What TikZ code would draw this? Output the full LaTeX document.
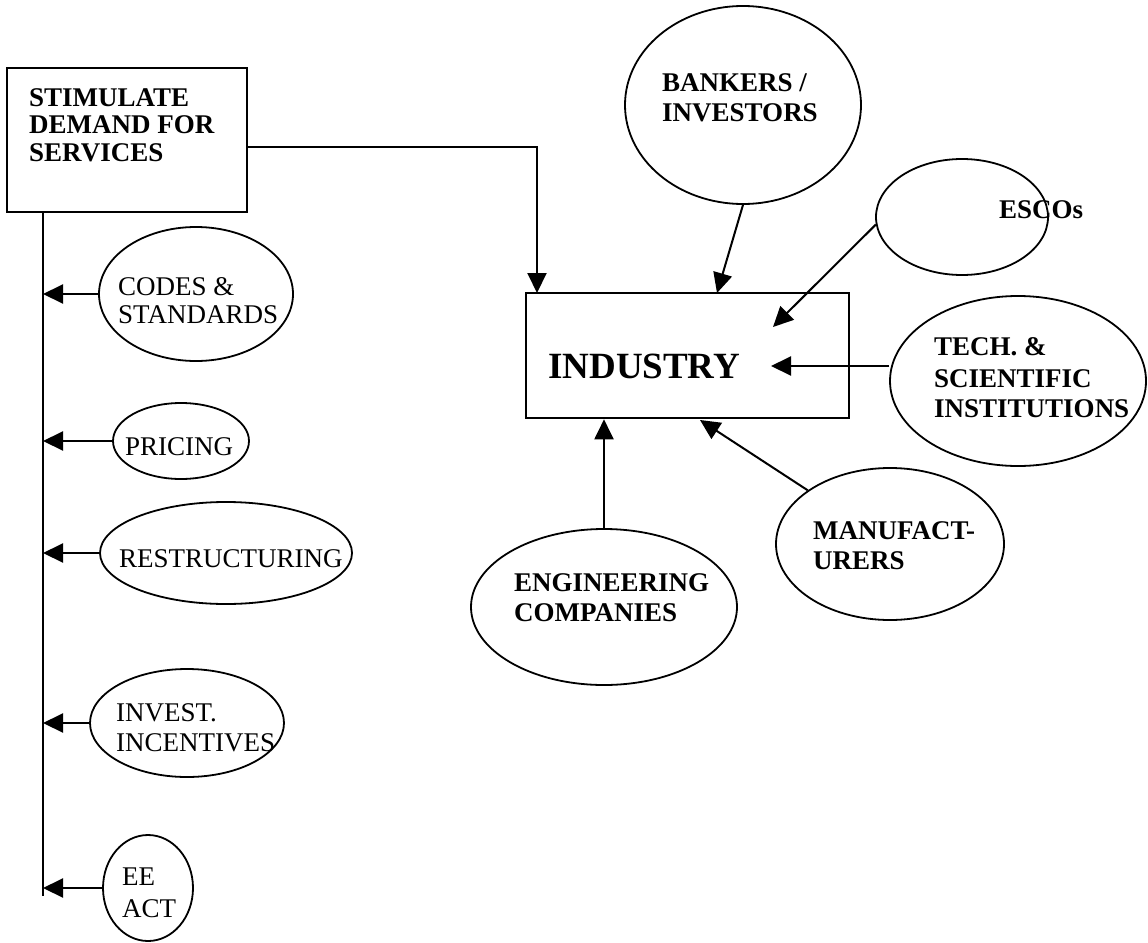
\documentclass[tikz,border=0pt]{standalone}
\usepackage{fontspec}
\setmainfont{Liberation Serif}
\usetikzlibrary{shapes.geometric,arrows.meta}
\begin{document}
\begin{tikzpicture}[x=1pt,y=-1pt,
  bubble/.style={draw,ellipse,inner sep=0pt,line width=1.8pt},
  box/.style={draw,rectangle,inner sep=0pt,line width=2.6pt},
  lbl/.style={anchor=north west,inner sep=0pt,align=left,font=\fontsize{27}{30}\selectfont},
  blbl/.style={anchor=north west,inner sep=0pt,align=left,font=\fontsize{27}{30}\selectfont\bfseries},
  arr/.style={-{Triangle[length=20pt,width=19pt]},line width=2pt},
  link/.style={line width=2pt}]
\useasboundingbox (0,0) rectangle (1148,942);

% main boxes
\node[box,minimum width=240pt,minimum height=144pt] (stim) at (127,140) {};
\node[box,minimum width=323pt,minimum height=125pt] (ind) at (687.5,355.5) {};

% policy instruments on the left
\node[bubble,minimum width=194pt,minimum height=134pt] (codes) at (196,294) {};
\node[bubble,minimum width=136pt,minimum height=76pt] (pricing) at (181,441) {};
\node[bubble,minimum width=252pt,minimum height=102pt] (restr) at (226,553) {};
\node[bubble,minimum width=194pt,minimum height=108pt] (invest) at (187,723) {};
\node[bubble,minimum width=90pt,minimum height=106pt] (ee) at (148,888) {};

% actors around industry
\node[bubble,minimum width=236pt,minimum height=198pt] (bank) at (743,105) {};
\node[bubble,minimum width=172pt,minimum height=116pt] (escos) at (962,217) {};
\node[bubble,minimum width=256pt,minimum height=170pt] (tech) at (1018,381) {};
\node[bubble,minimum width=228pt,minimum height=152pt] (manuf) at (890,544) {};
\node[bubble,minimum width=266pt,minimum height=156pt] (eng) at (604,607) {};

% labels
\node[blbl] (tstim) at (29,88) {STIMULATE\\[-2.5pt]DEMAND FOR\\[-2.5pt]SERVICES};
\node[blbl,font=\fontsize{37}{40}\selectfont\bfseries] (tind) at (548,353.5) {INDUSTRY};
\node[lbl] (tcodes) at (118,277.5) {CODES \&\\[-2pt]STANDARDS};
\node[lbl] (tpricing) at (125,437.5) {PRICING};
\node[lbl] (trestr) at (119,549.5) {RESTRUCTURING};
\node[lbl] (tinvest) at (116,703.5) {INVEST.\\INCENTIVES};
\node[lbl] (tee) at (122,867.5) {EE\\[2pt]ACT};
\node[blbl] (tbank) at (662,73.5) {BANKERS /\\INVESTORS};
\node[blbl] (tescos) at (999,200.5) {ESCOs};
\node[blbl] (ttech) at (934,337.5) {TECH. \&\\[1.5pt]SCIENTIFIC\\INSTITUTIONS};
\node[blbl] (tmanuf) at (813,521.5) {MANUFACT-\\URERS};
\node[blbl] (teng) at (514,573.5) {ENGINEERING\\COMPANIES};

% connector ends
\coordinate (sp1) at (43,212);
\coordinate (sp2) at (43,896);
\coordinate (tipS) at (537,293);
\coordinate (tipB) at (717,293);
\coordinate (tipE) at (773,327);
\coordinate (tipT) at (771,366);
\coordinate (tipM) at (700,420);

% connectors
\draw[link] (sp1) -- (sp2);
\draw[arr] ([yshift=-7pt]stim.east) -| (tipS);
\draw[arr] (codes.west) -- (codes.west -| sp1);
\draw[arr] (pricing.west) -- (pricing.west -| sp1);
\draw[arr] (restr.west) -- (restr.west -| sp1);
\draw[arr] (invest.west) -- (invest.west -| sp1);
\draw[arr] (ee.west) -- (ee.west -| sp1);
\draw[arr] (bank.south) -- (tipB);
\draw[arr] (escos.185) -- (tipE);
\draw[arr] (tech.west |- tipT) -- (tipT);
\draw[arr] (eng.north) -- (eng.north |- ind.south);
\draw[arr] (manuf) -- (tipM);
\end{tikzpicture}
\end{document}
